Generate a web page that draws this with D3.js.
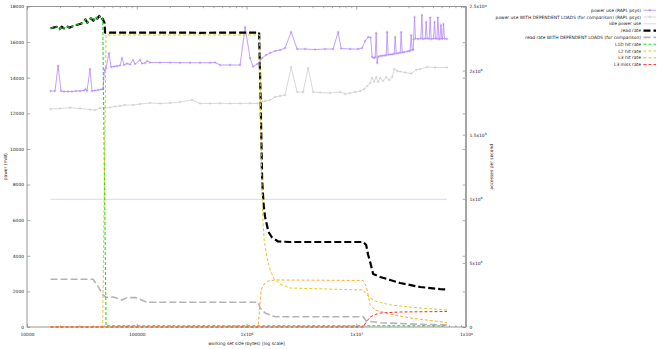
<!DOCTYPE html>
<html><head><meta charset="utf-8">
<script src="https://cdn.jsdelivr.net/npm/d3@7"></script>
<style>html,body{margin:0;padding:0;background:#fff;}svg{display:block;}</style>
</head><body><svg id="c" width="660" height="349"></svg>
<script>
// ---- data: [working set size (bytes), value] ----
const powerUse = [[16384,13254],[18000,13254],[19180,14675],[20410,13254],[21740,13226],[23650,13226],[25720,13226],[27970,13254],[30430,13254],[33080,13282],[34140,13366],[35230,13254],[37520,14489],[39130,13254],[41670,13282],[44380,13310],[47270,13338],[49290,13366],[50870,14433],[52500,14517],[55910,15388],[58310,14602],[62100,14630],[66130,14658],[70430,14686],[73450,15107],[76620,14714],[81580,14798],[86880,14742],[92530,14995],[96520,14770],[107170,14995],[111770,14798],[119040,14826],[124140,14939],[132190,14854],[163110,14854],[201180,14854],[248150,14843],[306120,14843],[377620,14843],[465840,14843],[517370,14854],[574550,14714],[708760,14714],[874270,14714],[971040,16848],[1078500,15107],[1148600,14618],[1249400,14770],[1316600,14882],[1387500,15107],[1509000,15276],[1641200,15388],[1822900,15500],[2025000,15556],[2248000,15669],[2550000,16567],[2892500,15612],[3421500,15612],[4221000,15584],[5206700,15612],[6158200,15612],[6839400,16567],[7284200,15641],[8799300,15612],[10407000,15612],[11317000,15669],[12054000,16062],[12838000,16286],[13530000,16258],[13963000,15163],[14562000,15107],[14870000,15150],[15186000,16511],[15508000,14826],[15837000,15190],[16512000,15219],[17200000,15235],[17963000,15247],[18728000,15260],[19126000,16567],[19530000,15290],[20370000,15304],[21250000,15320],[22160000,15332],[22630000,16286],[23110000,15360],[24100000,15380],[25130000,15400],[25666000,16567],[26210000,15420],[27330000,15444],[29107000,15472],[30350000,15500],[31000000,15520],[31658000,16399],[32330000,15560],[33015000,15584],[33360000,16150],[33940000,17410],[34650000,16202],[36670000,16174],[38810000,16202],[39630000,17522],[40470000,16174],[42480000,16200],[43370000,17129],[44290000,16202],[46190000,16190],[47170000,17382],[48170000,16174],[50560000,16200],[51630000,17129],[52720000,16202],[54300000,16190],[55460000,17382],[56620000,16174],[57820000,16180],[59060000,16960],[60310000,16202],[61070000,16190],[62370000,17016],[63700000,16202],[67108864,16174]];

const powerUseDep = [[16384,12243],[19990,12271],[24660,12316],[30430,12271],[37520,12215],[41670,12187],[46290,12299],[51410,12299],[57100,12327],[63420,12383],[70430,12411],[77510,12468],[92530,12468],[107170,12524],[132190,12580],[163110,12552],[201180,12580],[248150,12636],[319210,12748],[377620,12552],[465840,12552],[574550,12563],[708760,12552],[874270,12552],[1078500,12563],[1249400,12552],[1330000,12636],[1477000,12692],[1641200,12748],[1822900,12917],[2025000,12973],[2248000,13029],[2550000,14602],[2892500,13198],[3281000,13198],[3643400,14545],[4047600,13198],[4687800,13170],[5781000,13141],[7133000,13198],[7922000,13085],[8799300,13141],[9772000,13198],[10853000,13254],[11806000,13366],[12571000,13535],[13389000,13703],[13963000,13984],[14562000,13759],[15186000,14040],[15837000,13759],[16512000,13984],[17590000,13815],[18728000,14040],[19946000,13872],[21250000,14040],[22160000,14489],[23600000,14377],[25130000,14349],[27910000,14293],[31658000,14237],[35170000,14433],[38230000,14489],[44290000,14602],[52410000,14574],[67108864,14574]];

const idlePower = [[16384,7172],[67108864,7172]];

const readRate = [[16384,2.330e9],[17370,2.335e9],[18650,2.342e9],[19700,2.322e9],[20720,2.342e9],[21740,2.330e9],[23010,2.348e9],[24300,2.335e9],[25550,2.342e9],[26820,2.353e9],[28390,2.356e9],[30430,2.363e9],[32600,2.374e9],[34010,2.400e9],[35460,2.374e9],[36980,2.389e9],[38070,2.408e9],[40220,2.389e9],[42560,2.420e9],[43740,2.405e9],[45610,2.426e9],[47570,2.395e9],[48980,2.405e9],[50870,2.371e9],[51410,2.297e9],[132190,2.297e9],[377620,2.295e9],[1303000,2.297e9],[1345000,1.771e9],[1388000,1.147e9],[1432000,9.52e8],[1477000,8.58e8],[1584000,7.43e8],[1701000,7.00e8],[1942000,6.67e8],[2497000,6.63e8],[5780000,6.63e8],[11560000,6.63e8],[12310000,6.40e8],[12840000,5.62e8],[13390000,5.07e8],[14260000,4.13e8],[16520000,3.90e8],[20370000,3.67e8],[25130000,3.43e8],[38230000,3.12e8],[58200000,2.96e8],[67108864,2.93e8]];

const readRateDep = [[16384,3.72e8],[39980,3.72e8],[43460,3.28e8],[49290,2.50e8],[52500,2.32e8],[60810,2.34e8],[73460,2.11e8],[81560,2.29e8],[98540,2.29e8],[124100,1.93e8],[1276000,1.93e8],[1330000,1.48e8],[1477000,1.09e8],[1823000,8.0e7],[11560000,8.0e7],[12310000,4.7e7],[16520000,3.35e7],[38230000,2.1e7],[67108864,1.56e7]];

const l1dHit = [[16384,2.330e9],[17370,2.335e9],[18650,2.342e9],[19700,2.322e9],[20720,2.342e9],[21740,2.330e9],[23010,2.348e9],[24300,2.335e9],[25550,2.342e9],[26820,2.353e9],[28390,2.356e9],[30430,2.363e9],[32600,2.374e9],[34010,2.400e9],[35460,2.374e9],[36980,2.389e9],[38070,2.408e9],[40220,2.389e9],[42560,2.420e9],[43740,2.405e9],[45610,2.426e9],[47570,2.395e9],[48980,2.405e9],[52500,1.0e7],[1303000,1.0e7],[11560000,1.0e7],[67108864,1.0e7]];

const l2Hit = [[16384,0],[47270,0],[48980,2.0e7],[52500,2.278e9],[1317000,2.278e9],[1359000,1.381e9],[1403000,8.74e8],[1447000,6.79e8],[1541000,5.38e8],[1642000,4.45e8],[1785000,3.74e8],[2025000,3.35e8],[2497000,3.04e8],[11560000,2.89e8],[12310000,2.57e8],[13390000,2.26e8],[14870000,2.03e8],[20370000,1.72e8],[38230000,1.48e8],[67108864,1.33e8]];

const l3Hit = [[16384,0],[1276000,0],[1359000,2.89e8],[1447000,3.35e8],[1574000,3.59e8],[1823000,3.67e8],[11560000,3.63e8],[12310000,3.20e8],[12840000,2.50e8],[13390000,1.72e8],[14870000,1.33e8],[20370000,1.01e8],[30990000,7.0e7],[67108864,3.5e7]];

const l3Miss = [[16384,0],[11560000,0],[12310000,3.9e7],[13390000,7.8e7],[14870000,9.75e7],[16520000,1.09e8],[25130000,1.17e8],[67108864,1.21e8]];

const xMajorTicks = [1e4,1e5,1e6,1e7,1e8];
const xTickLabels = ["10000","100000","1x10^6","1x10^7","1x10^8"];
const yLeftTicks = [0,2000,4000,6000,8000,10000,12000,14000,16000,18000];
const yLeftLabels = ["0","2000","4000","6000","8000","10000","12000","14000","16000","18000"];
const yRightTicks = [0,5e8,1e9,1.5e9,2e9,2.5e9];
const yRightLabels = ["0","5x10^8","1x10^9","1.5x10^9","2x10^9","2.5x10^9"];

const seriesNames = ["power use (RAPL psys)","power use WITH DEPENDENT LOADS (for comparison) (RAPL psys)","idle power use","read rate","read rate WITH DEPENDENT LOADS (for comparison)","L1D hit rate","L2 hit rate","L3 hit rate","L3 miss rate"];

// ---- layout / styles ----
const L=27, R=466, T=6.5, B=327;
const FONT = "'DejaVu Sans', sans-serif";
const FS = 4.4;
const svg = d3.select("#c");

const x = d3.scaleLog().domain([1e4,1e8]).range([L,R]);
const yL = d3.scaleLinear().domain([0,18000]).range([B,T]);
const yR = d3.scaleLinear().domain([0,2.5e9]).range([B,T]);

const styles = [
  {data:powerUse, y:yL, color:"#b388ff", w:0.8, dash:null, marks:true},
  {data:powerUseDep, y:yL, color:"#c9c9c9", w:0.7, dash:null, marks:true},
  {data:idlePower, y:yL, color:"#d6c6ff", w:0.8, dash:null, marks:false},
  {data:readRate, y:yR, color:"#000000", w:2.2, dash:"7,3", marks:false},
  {data:readRateDep, y:yR, color:"#b4b4b4", w:1.6, dash:"7,3", marks:false},
  {data:l1dHit, y:yR, color:"#22dd22", w:1.1, dash:"3,2", marks:false},
  {data:l2Hit, y:yR, color:"#d8d020", w:1.0, dash:"3,2", marks:false},
  {data:l3Hit, y:yR, color:"#ffaa33", w:1.0, dash:"3,2", marks:false},
  {data:l3Miss, y:yR, color:"#ff2a2a", w:1.0, dash:"3,2", marks:false}
];

function supify(sel){
  sel.each(function(){
    const t=d3.select(this); const s=t.text(); const i=s.indexOf("^");
    if(i<0) return;
    t.text(s.slice(0,i));
    t.append("tspan").attr("dy",-1.5).attr("font-size",3.0).text(s.slice(i+1));
  });
}
function styleAxis(g, labels){
  g.select(".domain").remove();
  g.attr("font-size",FS).attr("font-family",FONT);
  g.selectAll(".tick line").attr("stroke","#8a8a8a").attr("stroke-width",0.7);
  g.selectAll(".tick text").attr("fill","#222");
  if(labels) g.selectAll(".tick text").call(supify);
}
const minorX = [];
for(let e=4;e<8;e++) for(let k=2;k<10;k++) minorX.push(k*Math.pow(10,e));

// axes
svg.append("g").attr("transform",`translate(0,${B})`)
  .call(d3.axisBottom(x).tickValues(xMajorTicks).tickSize(-3.3).tickPadding(6.3)
    .tickFormat((d,i)=>xTickLabels[i])).call(g=>styleAxis(g,true));
svg.append("g").attr("transform",`translate(0,${B})`)
  .call(d3.axisBottom(x).tickValues(minorX).tickSize(-1.7).tickFormat(""))
  .call(g=>styleAxis(g,false));
svg.append("g").attr("transform",`translate(0,${T})`)
  .call(d3.axisTop(x).tickValues(xMajorTicks).tickSize(-3.3).tickFormat(""))
  .call(g=>styleAxis(g,false));
svg.append("g").attr("transform",`translate(0,${T})`)
  .call(d3.axisTop(x).tickValues(minorX).tickSize(-1.7).tickFormat(""))
  .call(g=>styleAxis(g,false));
svg.append("g").attr("transform",`translate(${L},0)`)
  .call(d3.axisLeft(yL).tickValues(yLeftTicks).tickSize(-3.3).tickPadding(3)
    .tickFormat((d,i)=>yLeftLabels[i])).call(g=>styleAxis(g,false));
svg.append("g").attr("transform",`translate(${R},0)`)
  .call(d3.axisRight(yL).tickValues(yLeftTicks).tickSize(-3.3).tickFormat(""))
  .call(g=>styleAxis(g,false));
svg.append("g").attr("transform",`translate(${R},0)`)
  .call(d3.axisRight(yR).tickValues(yRightTicks).tickSize(-3.3).tickPadding(3.5)
    .tickFormat((d,i)=>yRightLabels[i])).call(g=>styleAxis(g,true));

// border
svg.append("rect").attr("x",L).attr("y",T).attr("width",R-L).attr("height",B-T)
  .attr("fill","none").attr("stroke","#8a8a8a").attr("stroke-width",0.9);
svg.append("line").attr("x1",R).attr("x2",R).attr("y1",T).attr("y2",B)
  .attr("stroke","#a0a0a0").attr("stroke-width",1.8);

// axis titles
svg.append("text").attr("transform",`translate(7,${(T+B)/2}) rotate(-90)`)
  .attr("text-anchor","middle").attr("font-size",FS).attr("font-family",FONT).attr("fill","#222").text("power (mW)");
svg.append("text").attr("transform",`translate(493,${(T+B)/2}) rotate(-90)`)
  .attr("text-anchor","middle").attr("font-size",FS).attr("font-family",FONT).attr("fill","#222").text("accesses per second");
svg.append("text").attr("x",(L+R)/2).attr("y",345)
  .attr("text-anchor","middle").attr("font-size",FS).attr("font-family",FONT).attr("fill","#222").text("working set size (bytes) [log scale]");

// series
const plot = svg.append("g");
function plus(g, cx, cy, color){
  g.append("path").attr("d",`M${cx-1.3},${cy}H${cx+1.3}M${cx},${cy-1.3}V${cy+1.3}`)
    .attr("stroke",color).attr("stroke-width",0.6).attr("fill","none");
}
styles.forEach((s)=>{
  const line = d3.line().x(d=>x(d[0])).y(d=>s.y(d[1]));
  plot.append("path").datum(s.data).attr("d",line).attr("fill","none")
    .attr("stroke",s.color).attr("stroke-width",s.w)
    .attr("stroke-dasharray",s.dash).attr("stroke-linejoin","round");
  if(s.marks){
    const mg = plot.append("g");
    s.data.forEach(d=>plus(mg, x(d[0]), s.y(d[1]), s.color));
  }
});

// legend
const lg = svg.append("g");
seriesNames.forEach((name,i)=>{
  const s = styles[i];
  const cy = 10.2 + i*6.8;
  lg.append("text").attr("x",641).attr("y",cy+1.5).attr("text-anchor","end")
    .attr("font-size",FS).attr("font-family",FONT).attr("fill","#222").text(name);
  lg.append("line").attr("x1",643.5).attr("x2",656).attr("y1",cy).attr("y2",cy)
    .attr("stroke",s.color).attr("stroke-width",s.w).attr("stroke-dasharray",s.dash);
  if(s.marks) plus(lg, 649.7, cy, s.color);
});
</script></body></html>
